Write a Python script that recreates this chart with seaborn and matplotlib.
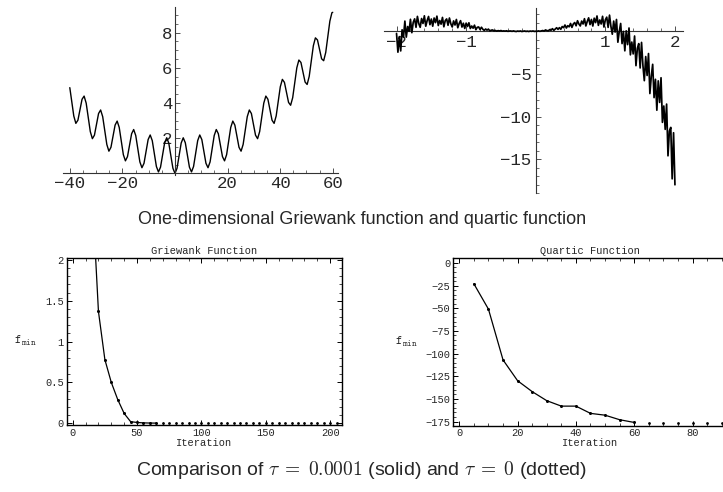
import numpy as np
import pandas as pd
import matplotlib
matplotlib.use("Agg")
import matplotlib.pyplot as plt
from matplotlib.ticker import MultipleLocator, FixedLocator
import seaborn as sns

# ---------------- data ----------------
# 1-D Griewank curve read at steps of pi/4 (plus the two end points)
griewank_step_index = list(range(-50, 77))
griewank_y = ([4.87] +
              [4.08, 3.26, 2.84, 3.02, 3.61, 4.21, 4.39, 3.99, 3.18, 2.37,
               1.97, 2.17, 2.78, 3.40, 3.60, 3.22, 2.43, 1.64, 1.26, 1.48,
               2.11, 2.74, 2.97, 2.61, 1.83, 1.06, 0.71, 0.95, 1.60, 2.25,
               2.49, 2.15, 1.40, 0.65, 0.32, 0.57, 1.24, 1.92, 2.18, 1.86,
               1.12, 0.39, 0.08, 0.35, 1.04, 1.74, 2.02, 1.72, 1.00, 0.29] +
              [0.00, 0.29, 1.00, 1.72, 2.02, 1.74, 1.04, 0.35, 0.08, 0.39,
               1.12, 1.86, 2.18, 1.92, 1.24, 0.57, 0.32, 0.65, 1.40, 2.15,
               2.49, 2.25, 1.60, 0.95, 0.71, 1.06, 1.83, 2.61, 2.97, 2.74,
               2.11, 1.48, 1.26, 1.64, 2.43, 3.22, 3.60, 3.40, 2.78, 2.17,
               1.97, 2.37, 3.18, 3.99, 4.39, 4.21, 3.61, 3.02, 2.84, 3.26,
               4.08, 4.92, 5.34, 5.17, 4.60, 4.03, 3.87, 4.30, 5.15, 6.00,
               6.44, 6.30, 5.74, 5.19, 5.05, 5.51, 6.37, 7.25, 7.70, 7.58,
               7.05, 6.51, 6.40, 6.87, 7.76, 8.65, 9.13] +
              [9.15])
griewank_x = [-40.0] + [k * np.pi / 4 for k in griewank_step_index] + [60.0]

# noisy quartic curve, sampled every 0.02 on [-2, 2]
quartic_y = [
    -0.25, -2.45, -0.62, -2.3, 0.18, -0.68, 1.2, -0.68, 0.56, 0.0,
    1.41, -0.16, 1.06, 1.46, 0.47, 1.75, 0.9, 0.47, 1.5, 0.92,
    1.82, 0.6, 1.26, 1.74, 0.78, 1.44, 0.6, 1.56, 1.02, 1.78,
    0.68, 1.27, 0.84, 1.63, 0.53, 1.26, 1.45, 0.71, 1.56, 0.89,
    0.51, 1.22, 0.74, 1.39, 0.42, 0.92, 1.25, 0.5, 0.95, 0.34,
    0.96, 0.57, 1.0, 0.33, 0.62, 0.37, 0.72, 0.19, 0.47, 0.51,
    0.21, 0.48, 0.24, 0.11, 0.27, 0.14, 0.26, 0.05, 0.13, 0.16,
    0.05, 0.1, 0.02, 0.08, 0.04, 0.09, 0.02, 0.05, 0.02, 0.06,
    0.0, 0.03, 0.04, 0.0, 0.05, 0.0, -0.02, 0.03, 0.0, 0.04,
    -0.02, 0.01, 0.04, -0.01, 0.02, -0.02, 0.03, 0.0, 0.04, -0.01,
    0.01, 0.0, 0.05, 0.0, 0.05, 0.09, 0.03, 0.16, 0.09, 0.05,
    0.2, 0.13, 0.31, 0.11, 0.27, 0.42, 0.23, 0.43, 0.24, 0.56,
    0.43, 0.74, 0.39, 0.66, 0.53, 0.92, 0.46, 0.86, 1.03, 0.65,
    1.24, 0.86, 0.63, 1.2, 0.86, 1.48, 0.63, 1.16, 1.58, 0.79,
    1.39, 0.62, 1.54, 1.02, 1.8, 0.7, 1.33, 0.86, 1.76, 0.5,
    1.35, 1.66, 0.46, 1.9, 0.58, -0.34, 1.2, -0.09, 1.39, -1.28,
    -0.02, 0.92, -1.44, -0.01, -2.29, 0.06, -1.56, 0.39, -2.76, -1.26,
    -2.65, -0.55, -4.03, -1.99, -1.44, -4.3, -1.3, -4.02, -5.79, -2.96,
    -5.18, -2.61, -7.3, -5.28, -3.87, -7.78, -5.63, -9.25, -5.81, -8.34,
    -5.45, -10.68, -8.76, -11.5, -8.54, -14.6, -11.7, -11.27, -17.3, -11.9,
    -18.0]
quartic_x = np.linspace(-2, 2, len(quartic_y))

# convergence: Griewank
gw_iter_solid = [15, 20, 25, 30, 35, 40, 45, 50, 55, 60, 65]
gw_fmin_solid = [2.87, 1.37, 0.78, 0.50, 0.29, 0.12, 0.02, 0.01, 0.005, 0.003, 0.002]
gw_iter_dot = list(range(70, 206, 5))
gw_fmin_dot = [0.0] * len(gw_iter_dot)

# convergence: Quartic
qt_iter_solid = [5, 10, 15, 20, 25, 30, 35, 40, 45, 50, 55, 60]
qt_fmin_solid = [-23, -51, -107, -130, -142, -152, -158, -158, -166, -168, -173, -176]
qt_iter_dot = [65, 70, 75, 80, 85, 90]
qt_fmin_dot = [-177] * len(qt_iter_dot)

caption_top = "One-dimensional Griewank function and quartic function"
caption_bottom = r"Comparison of $\tau\;=\;0.0001$ (solid) and $\tau\;=\;0$ (dotted)"

# ---------------- style ----------------
sns.set_theme(style="ticks")
plt.rcParams['font.family'] = ['Liberation Mono', 'DejaVu Sans']
plt.rcParams['mathtext.fontset'] = 'cm'

W, H = 723, 492
fig = plt.figure(figsize=(W / 100, H / 100), dpi=100)


def ax_px(l, t, r, b):
    return fig.add_axes([l / W, 1 - b / H, (r - l) / W, (b - t) / H])


AXC = '#333333'

# ---------------- top-left: Griewank ----------------
ax1 = ax_px(62.7, 6.7, 338, 175.1)
sns.lineplot(x=griewank_x, y=griewank_y, ax=ax1, color='black', lw=1.0,
             sort=False, estimator=None)
ax1.set_xlim(-42.7, 62)
ax1.set_ylim(-0.1, 9.47)
for s in ['top', 'right']:
    ax1.spines[s].set_visible(False)
ax1.spines['left'].set_position(('data', 0))
ax1.spines['bottom'].set_position(('data', 0))
for s in ['left', 'bottom']:
    ax1.spines[s].set_color(AXC)
    ax1.spines[s].set_linewidth(0.8)
ax1.xaxis.set_major_locator(FixedLocator([-40, -20, 20, 40, 60]))
ax1.xaxis.set_minor_locator(MultipleLocator(5))
ax1.yaxis.set_major_locator(FixedLocator([2, 4, 6, 8]))
ax1.yaxis.set_minor_locator(MultipleLocator(0.5))
ax1.tick_params(axis='both', which='major', direction='in', length=3.5, width=0.6,
                labelsize=12.5, color=AXC, pad=2)
ax1.tick_params(axis='both', which='minor', direction='in', length=2, width=0.5, color=AXC)
ax1.set_xticklabels(['\u221240', '\u221220', '20', '40', '60'])
ax1.set_xlabel('')
ax1.set_ylabel('')
ax1.patch.set_alpha(0)

# ---------------- top-right: quartic ----------------
ax2 = ax_px(384, 8.3, 683.3, 193.3)
sns.lineplot(x=quartic_x, y=quartic_y, ax=ax2, color='black', lw=1.25,
             sort=False, estimator=None, zorder=5)
ax2.set_xlim(-2.18, 2.12)
ax2.set_ylim(-19.0, 2.7)
for s in ['top', 'right']:
    ax2.spines[s].set_visible(False)
ax2.spines['left'].set_position(('data', 0))
ax2.spines['bottom'].set_position(('data', 0))
for s in ['left', 'bottom']:
    ax2.spines[s].set_color(AXC)
    ax2.spines[s].set_linewidth(0.8)
ax2.xaxis.set_major_locator(FixedLocator([-2, -1, 1, 2]))
ax2.xaxis.set_minor_locator(MultipleLocator(0.2))
ax2.yaxis.set_major_locator(FixedLocator([-15, -10, -5]))
ax2.yaxis.set_minor_locator(MultipleLocator(1))
ax2.tick_params(axis='both', which='major', direction='in', length=3.5, width=0.6,
                labelsize=12.5, color=AXC, pad=3)
ax2.tick_params(axis='both', which='minor', direction='in', length=2, width=0.5, color=AXC)
ax2.set_xticklabels(['\u22122', '\u22121', '1', '2'])
ax2.set_yticklabels(['\u221215', '\u221210', '\u22125'])
ax2.set_xlabel('')
ax2.set_ylabel('')
ax2.patch.set_alpha(0)


def frame_style(ax):
    for s in ax.spines.values():
        s.set_color('black')
        s.set_linewidth(1.0)
    ax.tick_params(axis='both', which='both', direction='in', top=True, right=True,
                   color='black', labelsize=7.5, pad=2)
    ax.tick_params(axis='both', which='major', length=3.5, width=0.7)
    ax.tick_params(axis='both', which='minor', length=2, width=0.5)
    ax.set_xlabel('Iteration', fontsize=7.5, labelpad=0)
    ax.set_ylabel(r'$\mathtt{f}_{\mathtt{min}}$', fontsize=9, rotation=0,
                  labelpad=14, va='center')


# ---------------- bottom-left: Griewank convergence ----------------
ax3 = ax_px(66.7, 257.7, 341.7, 425)
sns.lineplot(x=gw_iter_solid, y=gw_fmin_solid, ax=ax3, color='black', lw=0.9,
             marker='o', markersize=2.2, markeredgewidth=0, estimator=None)
sns.scatterplot(x=gw_iter_dot, y=gw_fmin_dot, ax=ax3, color='black', s=4,
                linewidth=0, zorder=5, clip_on=False)
ax3.set_xlim(-4.66, 209)
ax3.set_ylim(-0.021, 2.028)
ax3.xaxis.set_major_locator(MultipleLocator(50))
ax3.xaxis.set_minor_locator(MultipleLocator(10))
ax3.yaxis.set_minor_locator(MultipleLocator(0.1))
ax3.set_yticks([0, 0.5, 1, 1.5, 2])
ax3.set_yticklabels(['0', '0.5', '1', '1.5', '2'])
frame_style(ax3)
ax3.set_title('Griewank Function', fontsize=7.5, pad=3)

# ---------------- bottom-right: Quartic convergence ----------------
ax4 = ax_px(453.3, 257.7, 727.5, 425.7)
sns.lineplot(x=qt_iter_solid, y=qt_fmin_solid, ax=ax4, color='black', lw=0.9,
             marker='o', markersize=2.2, markeredgewidth=0, estimator=None)
sns.scatterplot(x=qt_iter_dot, y=qt_fmin_dot, ax=ax4, color='black', s=4,
                linewidth=0, zorder=5, clip_on=False)
ax4.set_xlim(-2.06, 92)
ax4.set_ylim(-179.6, 5.8)
ax4.xaxis.set_major_locator(MultipleLocator(20))
ax4.xaxis.set_minor_locator(MultipleLocator(5))
ax4.yaxis.set_minor_locator(MultipleLocator(5))
ax4.set_yticks([0, -25, -50, -75, -100, -125, -150, -175])
ax4.set_yticklabels(['0', '\u221225', '\u221250', '\u221275', '\u2212100',
                     '\u2212125', '\u2212150', '\u2212175'])
frame_style(ax4)
ax4.set_title('Quartic Function', fontsize=7.5, pad=3, x=(590 - 453.3) / (727.5 - 453.3))

# ---------------- captions ----------------
fig.text(362 / W, 1 - 220 / H, caption_top, ha='center', va='center',
         fontsize=13, family=['Liberation Sans', 'DejaVu Sans'])
fig.text(362 / W, 1 - 470 / H, caption_bottom, ha='center', va='center',
         fontsize=14, family=['Liberation Sans', 'DejaVu Sans'])

fig.savefig('out.png', dpi=100)
